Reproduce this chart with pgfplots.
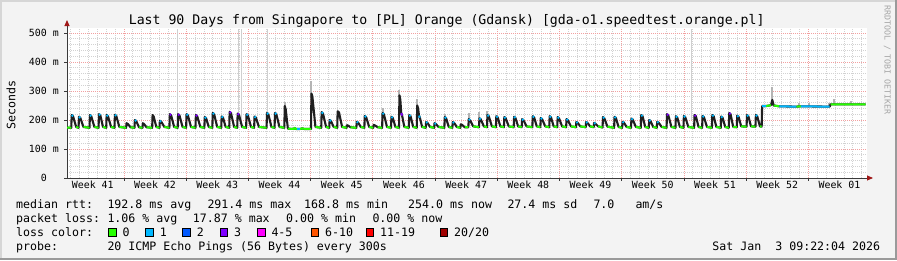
\documentclass[border=0pt]{standalone}
\usepackage{fontspec}
\setmainfont{DejaVu Sans Mono}
\usepackage{pgfplots}
\pgfplotsset{compat=1.18}
\usepackage{pgfplotstable}
\usetikzlibrary{arrows.meta}
\definecolor{bgc}{HTML}{F3F3F3}
\definecolor{shadea}{HTML}{D6D6D6}
\definecolor{shadeb}{HTML}{9A9A9A}
\definecolor{axisc}{HTML}{3A3A3A}
\definecolor{arrowc}{HTML}{A01818}
\definecolor{mgrid}{HTML}{F2A0A0}
\definecolor{mingrid}{HTML}{D2D2D2}
\definecolor{lzero}{HTML}{26FF00}
\definecolor{lone}{HTML}{00B8FF}
\definecolor{ltwo}{HTML}{0059FF}
\definecolor{lthree}{HTML}{7E00FF}
\definecolor{lfour}{HTML}{FF00FF}
\definecolor{lsix}{HTML}{FF5500}
\definecolor{leleven}{HTML}{FF0000}
\definecolor{ltwenty}{HTML}{A00000}
\definecolor{smokel}{HTML}{CFCFCF}
\definecolor{smoked}{HTML}{B4B4B4}
\newcommand\tickfont{\fontsize{9.9}{11}\selectfont}
\newcommand\legfont{\fontsize{11.6}{13}\selectfont}
\newcommand\titlefont{\fontsize{13.2}{15}\selectfont}

% median rtt (ms) by day; c = loss colour class (0 green, 1 light blue, 3 purple, 9 smoke only)
\pgfplotstableread[row sep=\\]{
x y c \\
0.00 174 0 \\ 0.48 173 0 \\ 0.53 217 1 \\ 0.68 213 1 \\ 1.03 176 0 \\
1.30 173 0 \\ 1.35 211 1 \\ 1.50 207 1 \\ 1.85 176 0 \\
2.53 173 0 \\ 2.58 217 1 \\ 2.73 213 1 \\ 3.08 176 0 \\
3.55 173 0 \\ 3.60 220 1 \\ 3.75 216 1 \\ 4.05 176 0 \\
4.41 173 0 \\ 4.46 217 1 \\ 4.61 213 1 \\ 4.96 176 0 \\
5.34 173 0 \\ 5.39 218 1 \\ 5.54 214 1 \\ 5.89 176 0 \\
6.65 173 0 \\ 6.70 189 9 \\ 6.85 186 9 \\ 7.15 175 0 \\
7.59 173 0 \\ 7.64 200 1 \\ 7.79 196 1 \\ 8.10 175 0 \\
8.49 173 0 \\ 8.54 189 9 \\ 8.69 185 9 \\ 8.95 175 0 \\
9.58 173 0 \\ 9.63 217 9 \\ 9.75 212 1 \\ 10.05 176 0 \\
10.40 173 0 \\ 10.45 197 1 \\ 10.60 194 1 \\ 10.95 176 0 \\
11.52 173 0 \\ 11.57 220 3 \\ 11.72 216 3 \\ 12.05 176 0 \\
12.45 173 0 \\ 12.50 220 3 \\ 12.65 216 3 \\ 13.00 176 0 \\
13.40 173 0 \\ 13.45 220 1 \\ 13.60 216 1 \\ 13.95 176 0 \\
14.45 173 0 \\ 14.50 217 3 \\ 14.65 213 3 \\ 15.00 176 0 \\
15.45 173 0 \\ 15.50 210 1 \\ 15.65 206 1 \\ 15.95 176 0 \\
16.35 173 0 \\ 16.40 224 1 \\ 16.55 220 1 \\ 16.90 176 0 \\
17.35 173 0 \\ 17.40 212 1 \\ 17.55 208 1 \\ 17.85 176 0 \\
18.25 173 0 \\ 18.30 228 3 \\ 18.45 224 3 \\ 18.80 176 0 \\
19.15 173 0 \\ 19.20 222 3 \\ 19.35 218 3 \\ 19.70 176 0 \\
20.15 173 0 \\ 20.20 220 1 \\ 20.35 216 1 \\ 20.70 176 0 \\
21.05 173 0 \\ 21.10 212 1 \\ 21.25 208 1 \\ 21.60 176 0 \\
22.45 173 0 \\ 22.50 224 1 \\ 22.65 220 1 \\ 23.00 176 0 \\
23.35 173 0 \\ 23.40 224 1 \\ 23.55 220 1 \\ 23.90 176 0 \\
24.45 173 0 \\ 24.50 248 9 \\ 24.60 238 9 \\ 24.85 170 0 \\
25.50 169 0 \\ 25.60 172 0 \\ 25.75 169 0 \\ 25.90 169 0 \\ 25.90 169 1 \\ 26.20 169 1 \\ 26.20 169 0 \\
26.50 171 0 \\ 26.70 169 0 \\ 27.45 169 0 \\ 27.50 291 9 \\ 27.60 282 9 \\ 27.95 176 0 \\
28.60 173 0 \\ 28.65 227 1 \\ 28.80 222 1 \\ 29.15 176 0 \\
29.50 173 0 \\ 29.55 200 1 \\ 29.70 196 1 \\ 30.00 176 0 \\
30.40 173 0 \\ 30.45 230 1 \\ 30.60 226 9 \\ 30.95 176 0 \\
31.45 173 0 \\ 31.50 182 9 \\ 31.65 180 9 \\ 31.90 175 0 \\
32.55 173 0 \\ 32.60 194 1 \\ 32.75 191 1 \\ 33.05 176 0 \\
33.45 173 0 \\ 33.50 214 1 \\ 33.65 210 1 \\ 34.00 176 0 \\
34.45 173 0 \\ 34.50 183 9 \\ 34.65 181 9 \\ 34.95 175 0 \\
35.45 173 0 \\ 35.50 224 1 \\ 35.65 220 1 \\ 36.00 176 0 \\
36.45 173 0 \\ 36.50 211 1 \\ 36.65 207 1 \\ 36.95 176 0 \\
37.35 173 0 \\ 37.40 285 9 \\ 37.50 270 9 \\ 37.60 224 3 \\ 37.70 215 3 \\ 37.95 176 0 \\
38.45 173 0 \\ 38.50 217 1 \\ 38.65 213 1 \\ 38.95 176 0 \\
39.35 173 0 \\ 39.40 250 9 \\ 39.50 240 9 \\ 39.60 215 1 \\ 39.70 208 1 \\ 39.95 176 0 \\
40.35 173 0 \\ 40.40 193 1 \\ 40.55 190 1 \\ 40.85 176 0 \\
41.30 173 0 \\ 41.35 189 1 \\ 41.50 186 1 \\ 41.80 176 0 \\
42.45 173 0 \\ 42.50 210 1 \\ 42.65 206 1 \\ 42.95 176 0 \\
43.35 173 0 \\ 43.40 193 1 \\ 43.55 190 1 \\ 43.85 176 0 \\
44.25 173 0 \\ 44.30 185 9 \\ 44.45 183 9 \\ 44.75 175 0 \\
45.15 175 0 \\ 45.20 203 1 \\ 45.35 199 1 \\ 45.70 178 0 \\
46.35 175 0 \\ 46.40 206 1 \\ 46.55 202 1 \\ 46.90 178 0 \\
47.25 175 0 \\ 47.30 217 1 \\ 47.45 213 1 \\ 47.80 178 0 \\
48.25 175 0 \\ 48.30 213 1 \\ 48.45 209 1 \\ 48.75 178 0 \\
49.15 175 0 \\ 49.20 210 1 \\ 49.35 206 1 \\ 49.70 178 0 \\
50.25 175 0 \\ 50.30 211 1 \\ 50.45 207 1 \\ 50.75 178 0 \\
51.15 175 0 \\ 51.20 203 1 \\ 51.35 199 1 \\ 51.70 178 0 \\
52.35 175 0 \\ 52.40 213 1 \\ 52.55 209 1 \\ 52.85 178 0 \\
53.25 175 0 \\ 53.30 207 1 \\ 53.45 203 1 \\ 53.80 178 0 \\
54.25 175 0 \\ 54.30 213 1 \\ 54.45 209 1 \\ 54.75 178 0 \\
55.15 175 0 \\ 55.20 210 1 \\ 55.35 206 1 \\ 55.70 178 0 \\
56.15 175 0 \\ 56.20 203 1 \\ 56.35 199 1 \\ 56.70 178 0 \\
57.25 175 0 \\ 57.30 193 1 \\ 57.45 190 1 \\ 57.75 178 0 \\
58.35 175 0 \\ 58.40 193 1 \\ 58.55 190 1 \\ 58.85 178 0 \\
59.25 175 0 \\ 59.30 190 1 \\ 59.45 187 1 \\ 59.75 178 0 \\
60.25 174 0 \\ 60.30 210 1 \\ 60.45 206 1 \\ 60.80 177 0 \\
61.55 173 0 \\ 61.60 211 1 \\ 61.75 207 1 \\ 62.05 176 0 \\
62.45 173 0 \\ 62.50 194 1 \\ 62.65 191 1 \\ 62.95 176 0 \\
63.45 173 0 \\ 63.50 205 1 \\ 63.65 201 1 \\ 64.00 176 0 \\
64.55 173 0 \\ 64.60 217 1 \\ 64.75 213 1 \\ 65.05 176 0 \\
65.45 173 0 \\ 65.50 200 1 \\ 65.65 196 1 \\ 65.95 176 0 \\
66.35 173 0 \\ 66.40 194 1 \\ 66.55 191 1 \\ 66.90 176 0 \\
67.45 173 0 \\ 67.50 220 3 \\ 67.65 216 3 \\ 68.00 176 0 \\
68.45 173 0 \\ 68.50 213 1 \\ 68.65 209 1 \\ 68.95 176 0 \\
69.35 173 0 \\ 69.40 214 1 \\ 69.55 210 1 \\ 69.90 176 0 \\
70.55 173 0 \\ 70.60 217 3 \\ 70.75 213 3 \\ 71.05 176 0 \\
71.45 173 0 \\ 71.50 214 1 \\ 71.65 210 1 \\ 72.00 176 0 \\
72.55 173 0 \\ 72.60 217 1 \\ 72.75 213 1 \\ 73.05 176 0 \\
73.55 173 0 \\ 73.60 212 1 \\ 73.75 208 1 \\ 74.05 176 0 \\
74.45 173 0 \\ 74.50 224 3 \\ 74.65 220 3 \\ 74.95 176 0 \\
75.35 175 0 \\ 75.40 215 1 \\ 75.55 211 1 \\ 75.85 178 0 \\
76.45 177 0 \\ 76.50 217 1 \\ 76.65 213 1 \\ 76.95 178 0 \\
77.45 177 0 \\ 77.50 217 1 \\ 77.65 213 1 \\ 77.95 178 0 \\
78.15 177 0 \\ 78.20 248 1 \\ 78.65 248 1 \\ 78.65 248 0 \\ 79.20 251 0 \\ 79.35 269 9 \\
79.50 250 0 \\ 80.15 247 0 \\ 80.15 247 1 \\ 82.05 246 1 \\ 82.05 246 0 \\ 82.55 247 0 \\
82.55 247 1 \\ 85.80 246 1 \\ 85.90 254 0 \\ 89.85 254 0 \\
}\med

% faint smoke reaching high (ms), nan separates strokes
\pgfplotstableread[row sep=\\]{
x y \\
12.47 200 \\ 12.47 512 \\ 12.47 nan \\
19.30 200 \\ 19.30 512 \\ 19.30 nan \\
19.60 200 \\ 19.60 512 \\ 19.60 nan \\
22.50 200 \\ 22.50 512 \\ 22.50 nan \\
70.30 200 \\ 70.30 512 \\ 70.30 nan \\
}\smokehigh

% smoke above the median spikes
\pgfplotstableread[row sep=\\]{
x y \\
24.50 240 \\ 24.50 262 \\ 24.50 nan \\
27.50 280 \\ 27.50 335 \\ 27.50 nan \\
35.50 220 \\ 35.50 240 \\ 35.50 nan \\
37.40 280 \\ 37.40 305 \\ 37.40 nan \\
39.40 245 \\ 39.40 272 \\ 39.40 nan \\
42.50 206 \\ 42.50 222 \\ 42.50 nan \\
45.20 200 \\ 45.20 224 \\ 45.20 nan \\
46.40 203 \\ 46.40 226 \\ 46.40 nan \\
47.30 213 \\ 47.30 232 \\ 47.30 nan \\
79.35 265 \\ 79.35 312 \\ 79.35 nan \\
82.36 247 \\ 82.36 258 \\ 82.36 nan \\
83.50 247 \\ 83.50 258 \\ 83.50 nan \\
85.70 247 \\ 85.70 260 \\ 85.70 nan \\
86.30 254 \\ 86.30 272 \\ 86.30 nan \\
88.20 254 \\ 88.20 266 \\ 88.20 nan \\
89.10 254 \\ 89.10 260 \\ 89.10 nan \\
}\smokespike

\begin{document}
\begin{tikzpicture}[x=1pt,y=1pt]
\useasboundingbox (0,0) rectangle (897,260);
\fill[bgc] (0,0) rectangle (897,260);
\fill[shadea] (0,258) rectangle (897,260);
\fill[shadea] (0,0) rectangle (2,260);
\fill[shadeb] (0,0) rectangle (897,2);
\fill[shadeb] (895,0) rectangle (897,260);

\begin{axis}[
  at={(67pt,82pt)}, anchor=south west,
  scale only axis, width=800pt, height=150pt,
  xmin=0, xmax=90, ymin=0, ymax=517,
  enlargelimits=false,
  axis background/.style={fill=white},
  axis x line=bottom, axis y line=left,
  x axis line style={draw=axisc, line width=0.9pt, -{Triangle[length=6pt,width=5pt,color=arrowc,fill=arrowc]}, shorten >=-6pt},
  y axis line style={draw=axisc, line width=0.9pt, -{Triangle[length=6pt,width=5pt,color=arrowc,fill=arrowc]}, shorten >=-8pt},
  xtick={6.4,13.4,20.4,27.4,34.4,41.4,48.4,55.4,62.4,69.4,76.4,83.4},
  xticklabels={},
  minor xtick={0.4,1.4,...,89.4},
  extra x ticks={2.9,9.9,16.9,23.9,30.9,37.9,44.9,51.9,58.9,65.9,72.9,79.9,86.9},
  extra x tick labels={Week 41,Week 42,Week 43,Week 44,Week 45,Week 46,Week 47,Week 48,Week 49,Week 50,Week 51,Week 52,Week 01},
  extra x tick style={grid=none, major tick length=0pt},
  ytick={0,100,200,300,400,500},
  yticklabels={{0\hphantom{\ m}},{100 m},{200 m},{300 m},{400 m},{500 m}},
  minor y tick num=4,
  grid=both,
  major grid style={draw=mgrid, line width=0.7pt, dash pattern=on 1pt off 1pt},
  minor grid style={draw=mingrid, line width=0.7pt, dash pattern=on 1pt off 1pt},
  tick align=outside, major tick length=3pt, minor tick length=0pt,
  tick style={draw=axisc, line width=0.7pt},
  tick label style={font=\tickfont, text=black},
  xticklabel style={anchor=base, inner sep=0pt, yshift=-10.5pt},
  yticklabel style={anchor=base east, inner sep=0pt, xshift=-5pt, yshift=-3.6pt},
]
\addplot[smokel, line width=1pt, unbounded coords=jump] table[x=x,y=y] {\smokehigh};
\addplot[smoked, line width=2pt, unbounded coords=jump] table[x=x,y=y] {\smokespike};
\addplot[black!88, line width=2.1pt, line join=round] table[x=x,y=y] {\med};
\addplot[lzero, line width=2pt, unbounded coords=jump, restrict expr to domain={\thisrow{c}}{-0.5:0.5}] table[x=x,y=y] {\med};
\addplot[lone, line width=2pt, unbounded coords=jump, restrict expr to domain={\thisrow{c}}{0.5:1.5}] table[x=x,y=y] {\med};
\addplot[lthree, line width=2pt, unbounded coords=jump, restrict expr to domain={\thisrow{c}}{2.5:3.5}] table[x=x,y=y] {\med};
\end{axis}

% titles and side texts
\node[anchor=base, font=\titlefont] at (446.7,235) {Last 90 Days from Singapore to [PL] Orange (Gdansk) [gda-o1.speedtest.orange.pl]};
\node[rotate=90, font=\legfont] at (11,155) {Seconds};
\node[rotate=-90, font=\fontsize{8.3}{9}\selectfont, text=black!35] at (887.3,200) {RRDTOOL / TOBI OETIKER};

% legend lines
\begin{scope}[every node/.style={anchor=base west, inner sep=0pt, font=\legfont}]
\node at (16,52) {median rtt:};
\node at (107.3,52) {192.8 ms avg};
\node at (207.3,52) {291.4 ms max};
\node at (304,52) {168.8 ms min};
\node at (408,52) {254.0 ms now};
\node at (507.3,52) {27.4 ms sd};
\node at (593.3,52) {7.0};
\node at (635.3,52) {am/s};
\node at (16,37.7) {packet loss:};
\node at (107.3,37.7) {1.06 \% avg};
\node at (192.7,37.7) {17.87 \% max};
\node at (286,37.7) {0.00 \% min};
\node at (372.3,37.7) {0.00 \% now};
\node at (16,23.7) {loss color:};
\node at (122.3,23.7) {0};
\node at (159.7,23.7) {1};
\node at (196.7,23.7) {2};
\node at (234,23.7) {3};
\node at (271.3,23.7) {4-5};
\node at (325,23.7) {6-10};
\node at (380,23.7) {11-19};
\node at (454,23.7) {20/20};
\node at (16,9.3) {probe:};
\node at (107.3,9.3) {20 ICMP Echo Pings (56 Bytes) every 300s};
\node[anchor=base east] at (880.3,9.3) {Sat Jan\ \ 3 09:22:04 2026};
\end{scope}
\begin{scope}[line width=0.8pt]
\draw[fill=lzero] (108.3,23.9) rectangle ++(7.6,7.6);
\draw[fill=lone] (145.7,23.9) rectangle ++(7.6,7.6);
\draw[fill=ltwo] (182.7,23.9) rectangle ++(7.6,7.6);
\draw[fill=lthree] (220,23.9) rectangle ++(7.6,7.6);
\draw[fill=lfour] (257.3,23.9) rectangle ++(7.6,7.6);
\draw[fill=lsix] (311,23.9) rectangle ++(7.6,7.6);
\draw[fill=leleven] (366,23.9) rectangle ++(7.6,7.6);
\draw[fill=ltwenty] (440,23.9) rectangle ++(7.6,7.6);
\end{scope}
\end{tikzpicture}
\end{document}
